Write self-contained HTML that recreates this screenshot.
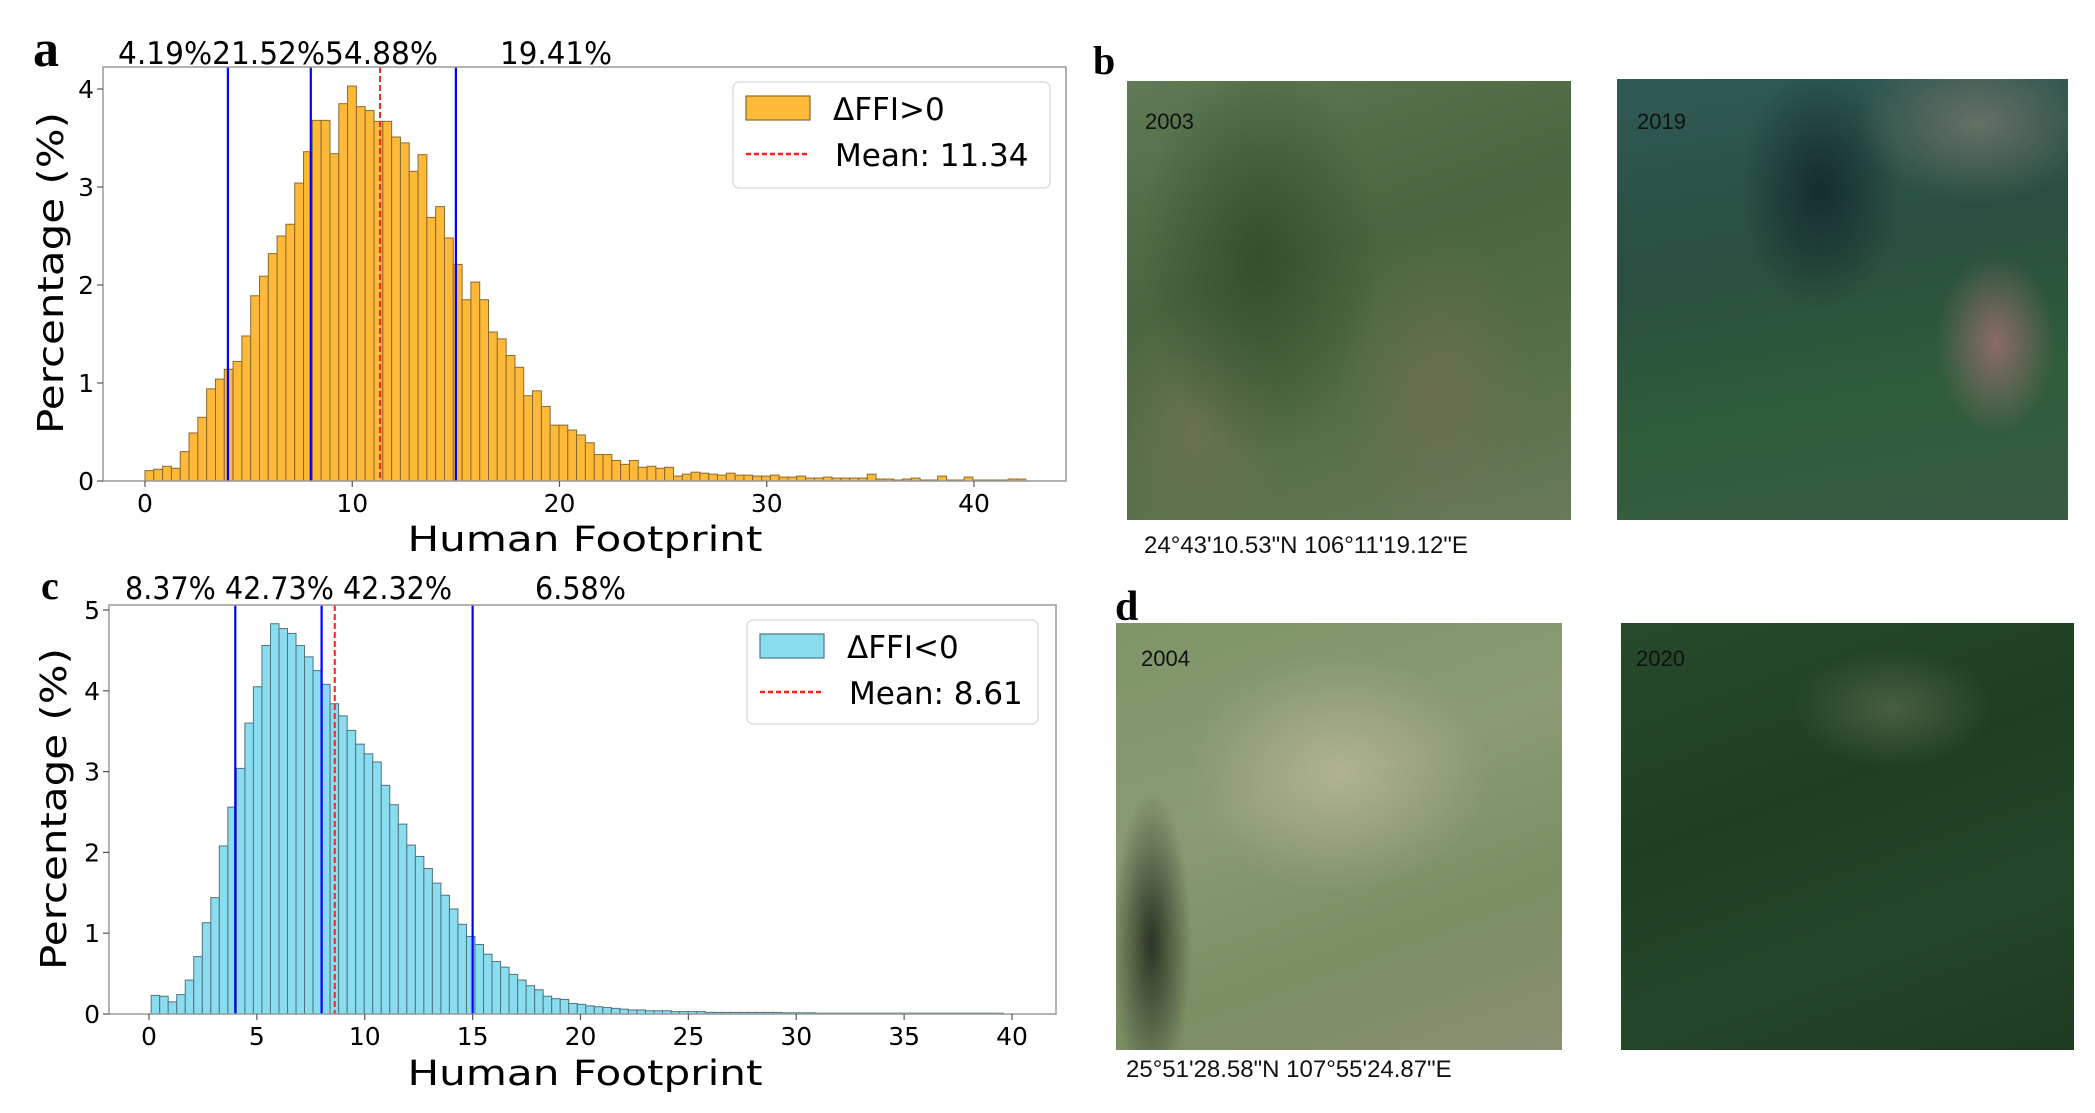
<!DOCTYPE html>
<html><head><meta charset="utf-8"><style>
html,body{margin:0;padding:0;background:#fff;width:2095px;height:1113px;overflow:hidden}
.img{position:absolute}
</style></head><body>
<div class="img" style="left:1127px;top:81px;width:444px;height:439px;background:
radial-gradient(ellipse 120px 200px at 30% 40%,rgba(40,70,35,.7),transparent),
radial-gradient(ellipse 100px 160px at 70% 70%,rgba(130,110,90,.45),transparent),
radial-gradient(ellipse 90px 140px at 15% 80%,rgba(140,120,100,.4),transparent),
linear-gradient(160deg,#5f7a55,#48663f 40%,#556f47 70%,#6a7a5a);"></div>
<div class="img" style="left:1617px;top:79px;width:451px;height:441px;background:
radial-gradient(ellipse 60px 90px at 84% 60%,rgba(150,110,110,.9),transparent),
radial-gradient(ellipse 120px 80px at 80% 10%,rgba(140,130,120,.6),transparent),
radial-gradient(ellipse 80px 120px at 45% 25%,rgba(15,35,40,.8),transparent),
linear-gradient(170deg,#2f5a55,#2a4e40 40%,#2f5d3a 70%,#3a5a45);"></div>
<div class="img" style="left:1116px;top:623px;width:446px;height:427px;background:
radial-gradient(ellipse 40px 150px at 8% 75%,rgba(30,35,25,.85),transparent),
radial-gradient(ellipse 150px 120px at 50% 35%,rgba(200,195,160,.6),transparent),
linear-gradient(160deg,#7f9468,#8b9a74 40%,#7c8e64 70%,#8a8f72);"></div>
<div class="img" style="left:1621px;top:623px;width:453px;height:427px;background:
radial-gradient(ellipse 100px 60px at 60% 20%,rgba(120,130,100,.45),transparent),
linear-gradient(160deg,#274a2b,#1f3f22 40%,#24462a 70%,#1e3b22);"></div>
<svg width="2095" height="1113" style="position:absolute;left:0;top:0" font-family="DejaVu Sans, sans-serif">
<g id="ga"></g><g id="gc"></g>
<g font-family="Liberation Serif, serif" font-weight="bold">
<text x="33" y="66" font-size="52">a</text>
<text x="41" y="599" font-size="40">c</text>
<text x="1093" y="74" font-size="40">b</text>
<text x="1115" y="620" font-size="42">d</text>
</g>
<g font-family="Liberation Sans, sans-serif" font-size="22" fill="#111">
<text x="1145" y="129">2003</text><text x="1637" y="129">2019</text>
<text x="1141" y="666">2004</text><text x="1636" y="666">2020</text>
<text x="1144" y="553" font-size="24">24°43'10.53"N  106°11'19.12"E</text>
<text x="1126" y="1077" font-size="24">25°51'28.58"N 107°55'24.87"E</text>
</g>
</svg>
<script>
var NS="http://www.w3.org/2000/svg";
function el(p,t,a,txt){var e=document.createElementNS(NS,t);for(var k in a)e.setAttribute(k,a[k]);if(txt!=null)e.textContent=txt;p.appendChild(e);return e;}
var A=[0.106,0.12,0.15,0.13,0.3,0.49,0.65,0.94,1.04,1.14,1.22,1.48,1.89,2.09,2.32,2.5,2.62,3.04,3.36,3.68,3.68,3.34,3.85,4.03,3.82,3.78,3.67,3.67,3.51,3.45,3.16,3.33,2.69,2.8,2.48,2.21,1.85,2.03,1.85,1.52,1.45,1.28,1.16,0.87,0.92,0.76,0.57,0.57,0.52,0.47,0.39,0.27,0.27,0.21,0.17,0.21,0.14,0.15,0.13,0.14,0.05,0.07,0.09,0.08,0.07,0.06,0.08,0.06,0.06,0.05,0.05,0.06,0.04,0.04,0.05,0.03,0.03,0.04,0.03,0.03,0.03,0.03,0.07,0.02,0.02,0.01,0.02,0.03,0.01,0.01,0.05,0.01,0.01,0.04,0.01,0.01,0.01,0.01,0.02,0.02];
var C=[0.23,0.22,0.15,0.24,0.42,0.71,1.13,1.44,2.08,2.56,3.04,3.6,4.05,4.56,4.83,4.77,4.71,4.56,4.42,4.25,4.08,3.84,3.69,3.51,3.34,3.22,3.12,2.83,2.59,2.35,2.09,1.95,1.8,1.62,1.47,1.3,1.11,0.96,0.86,0.74,0.65,0.58,0.49,0.42,0.35,0.3,0.22,0.19,0.18,0.13,0.12,0.1,0.09,0.08,0.07,0.06,0.05,0.05,0.04,0.04,0.04,0.03,0.03,0.03,0.03,0.02,0.02,0.02,0.02,0.02,0.02,0.02,0.02,0.02,0.015,0.015,0.015,0.015,0.01,0.01,0.01,0.01,0.01,0.01,0.01,0.01,0.01,0.01,0.01,0.01,0.01,0.01,0.01,0.01,0.01,0.01,0.01,0.01,0.01,0.01];
function panel(g,o){
 var X=function(v){return o.x0+v*o.sx},Y=function(h){return o.y0-h*o.sy};
 o.data.forEach(function(h,i){var v=o.start+i*o.w;el(g,"rect",{x:X(v),y:Y(h),width:o.w*o.sx,height:h*o.sy,fill:o.fill,stroke:o.edge,"stroke-width":1});});
 [4,8,15].forEach(function(v){el(g,"line",{x1:X(v),x2:X(v),y1:o.top,y2:o.y0,stroke:"#0000ff","stroke-width":2.2});});
 el(g,"line",{x1:X(o.mean),x2:X(o.mean),y1:o.top,y2:o.y0,stroke:"#ff2020","stroke-width":2,"stroke-dasharray":"6,3"});
 el(g,"rect",{x:o.L,y:o.top,width:o.R-o.L,height:o.y0-o.top,fill:"none",stroke:"#999","stroke-width":1.5});
 o.yt.forEach(function(t){el(g,"line",{x1:o.L-6,x2:o.L,y1:Y(t),y2:Y(t),stroke:"#555","stroke-width":1.2});el(g,"text",{x:o.L-9,y:Y(t)+9,"font-size":25,"text-anchor":"end"},t);});
 o.xt.forEach(function(t){el(g,"line",{x1:X(t),x2:X(t),y1:o.y0,y2:o.y0+6,stroke:"#555","stroke-width":1.2});el(g,"text",{x:X(t),y:o.xb,"font-size":25,"text-anchor":"middle"},t);});
 el(g,"text",{x:585,y:o.xlab,"font-size":35,"text-anchor":"middle",textLength:355,lengthAdjust:"spacingAndGlyphs"},"Human Footprint");
 el(g,"text",{x:0,y:0,"font-size":36,"text-anchor":"middle",textLength:322,lengthAdjust:"spacingAndGlyphs",transform:"translate("+o.yl[0]+","+o.yl[1]+") rotate(-90)"},"Percentage (%)");
 o.pl.forEach(function(p){el(g,"text",{x:p[0],y:o.pb,"font-size":31,textLength:p[2],lengthAdjust:"spacingAndGlyphs"},p[1]);});
 var lg=o.lg;
 el(g,"rect",{x:lg[0],y:lg[1],width:lg[2],height:lg[3],rx:6,fill:"#fff","fill-opacity":0.85,stroke:"#ddd","stroke-width":1.5});
 el(g,"rect",{x:lg[0]+13,y:lg[1]+14,width:64,height:24,fill:o.fill,stroke:o.edge,"stroke-width":1.2});
 el(g,"line",{x1:lg[0]+13,x2:lg[0]+77,y1:lg[1]+72,y2:lg[1]+72,stroke:"#ff2020","stroke-width":2.5,"stroke-dasharray":"5,3"});
 el(g,"text",{x:lg[0]+100,y:lg[1]+38,"font-size":31},o.lab);
 el(g,"text",{x:lg[0]+102,y:lg[1]+84,"font-size":31},"Mean: "+o.mean);
}
panel(document.getElementById("ga"),{data:A,start:0,w:0.425,x0:145,sx:20.725,y0:481,sy:98,top:67,L:103,R:1066,mean:11.34,fill:"#ffb938",edge:"#8a6a2a",
 yt:[0,1,2,3,4],xt:[0,10,20,30,40],xb:512,xlab:551,yl:[63,273],pb:64,
 pl:[[118,"4.19%21.52%54.88%",320],[500,"19.41%",112]],lg:[733,82,317,106],lab:"\u0394FFI>0"});
panel(document.getElementById("gc"),{data:C,start:0.1,w:0.395,x0:149,sx:21.575,y0:1014,sy:80.8,top:605,L:109,R:1056,mean:8.61,fill:"#8adcef",edge:"#4d7480",
 yt:[0,1,2,3,4,5],xt:[0,5,10,15,20,25,30,35,40],xb:1045,xlab:1085,yl:[66,809],pb:599,
 pl:[[125,"8.37% 42.73% 42.32%",327],[535,"6.58%",91]],lg:[747,620,291,104],lab:"\u0394FFI<0"});
</script>
</body></html>
